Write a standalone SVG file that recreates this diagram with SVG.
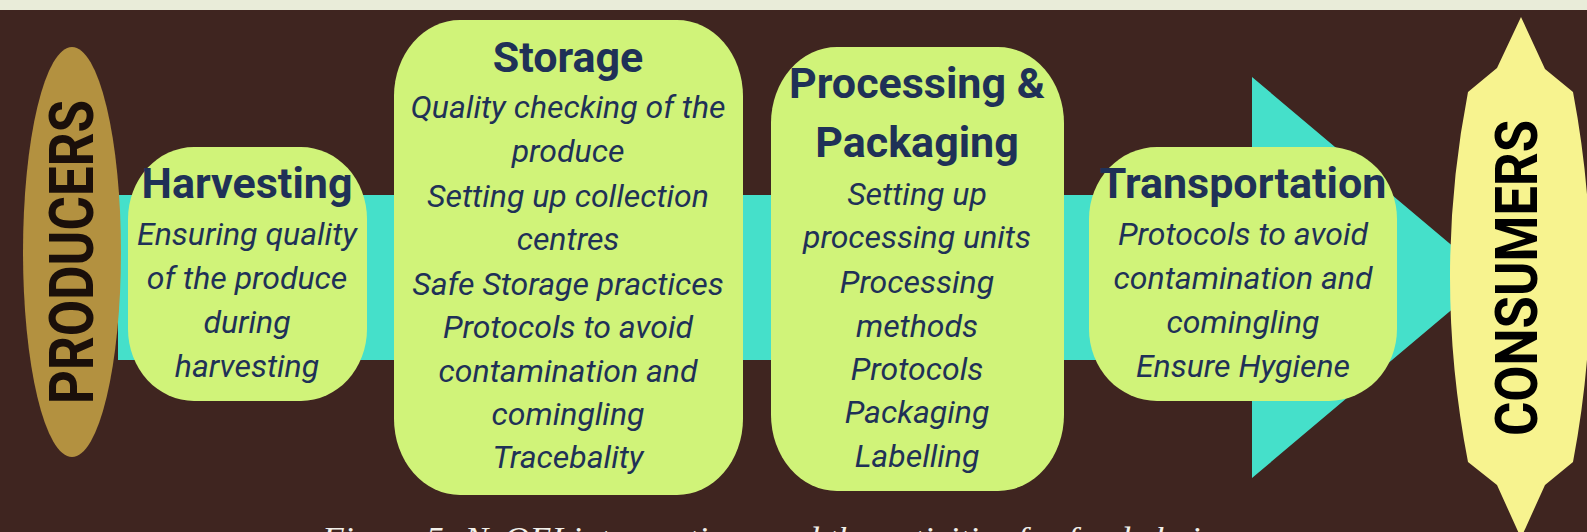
<svg xmlns="http://www.w3.org/2000/svg" width="1587" height="532" viewBox="0 0 1587 532">
  <style>
    .box { fill: #D0F379; }
    .title { font-family: Roboto, "Liberation Sans", sans-serif; font-weight: bold; font-size: 43px; fill: #1F3157; text-anchor: middle; }
    .body { font-family: Roboto, "Liberation Sans", sans-serif; font-style: italic; font-size: 32px; fill: #1F3157; text-anchor: middle; }
    .side { font-family: Roboto, "Liberation Sans", sans-serif; font-weight: bold; text-anchor: middle; }
    .caption { font-family: "Liberation Serif", serif; font-style: italic; font-size: 32px; fill: #F2F0EA; }
  </style>
  <rect x="0" y="0" width="1587" height="532" fill="#3F2520"/>
  <rect x="0" y="0" width="1587" height="10" fill="#E9ECD9"/>

  <g id="connectors">
    <path d="M118,195 H1252 V77 L1490,277.5 L1252,478 V360 H118 Z" fill="#45E0CA"/>
  </g>

  <g id="producers">
    <ellipse cx="72" cy="252" rx="49" ry="205" fill="#B39140"/>
    <text class="side" transform="translate(93,252) rotate(-90)" font-size="62" fill="#1A0F0A" textLength="304" lengthAdjust="spacingAndGlyphs">PRODUCERS</text>
  </g>

  <g id="harvesting">
    <rect class="box" x="128" y="147" width="239" height="254" rx="66" ry="72"/>
    <text class="title" x="247" y="198">Harvesting</text>
    <text class="body" x="247" y="245">Ensuring quality</text>
    <text class="body" x="247" y="289">of the produce</text>
    <text class="body" x="247" y="333">during</text>
    <text class="body" x="247" y="377">harvesting</text>
  </g>

  <g id="storage">
    <rect class="box" x="394" y="20" width="349" height="475" rx="66" ry="76"/>
    <text class="title" x="568" y="72">Storage</text>
    <text class="body" x="568" y="118">Quality checking of the</text>
    <text class="body" x="568" y="162">produce</text>
    <text class="body" x="568" y="207">Setting up collection</text>
    <text class="body" x="568" y="250">centres</text>
    <text class="body" x="568" y="295">Safe Storage practices</text>
    <text class="body" x="568" y="338">Protocols to avoid</text>
    <text class="body" x="568" y="382">contamination and</text>
    <text class="body" x="568" y="425">comingling</text>
    <text class="body" x="568" y="468">Tracebality</text>
  </g>

  <g id="processing">
    <rect class="box" x="771" y="47" width="293" height="444" rx="66" ry="76"/>
    <text class="title" x="917" y="98">Processing &amp;</text>
    <text class="title" x="917" y="157">Packaging</text>
    <text class="body" x="917" y="205">Setting up</text>
    <text class="body" x="917" y="248">processing units</text>
    <text class="body" x="917" y="293">Processing</text>
    <text class="body" x="917" y="337">methods</text>
    <text class="body" x="917" y="380">Protocols</text>
    <text class="body" x="917" y="423">Packaging</text>
    <text class="body" x="917" y="467">Labelling</text>
  </g>

  <g id="transportation">
    <rect class="box" x="1089" y="147" width="308" height="254" rx="68" ry="72"/>
    <text class="title" x="1243" y="198">Transportation</text>
    <text class="body" x="1243" y="245">Protocols to avoid</text>
    <text class="body" x="1243" y="289">contamination and</text>
    <text class="body" x="1243" y="333">comingling</text>
    <text class="body" x="1243" y="377">Ensure Hygiene</text>
  </g>

  <g id="consumers">
    <path d="M1521,17 L1545,69 L1573,92 Q1608,277 1573,462 L1545,485 L1521,538 L1497,485 L1468,462 Q1432,277 1468,92 L1497,68 Z" fill="#F7F38F"/>
    <text class="side" transform="translate(1537,278) rotate(-90)" font-size="59" fill="#000000" textLength="316" lengthAdjust="spacingAndGlyphs">CONSUMERS</text>
  </g>

  <text class="caption" x="322" y="549" textLength="896" lengthAdjust="spacingAndGlyphs">Figure 5: NeOEI interventions and the activities for food chain</text>
</svg>
